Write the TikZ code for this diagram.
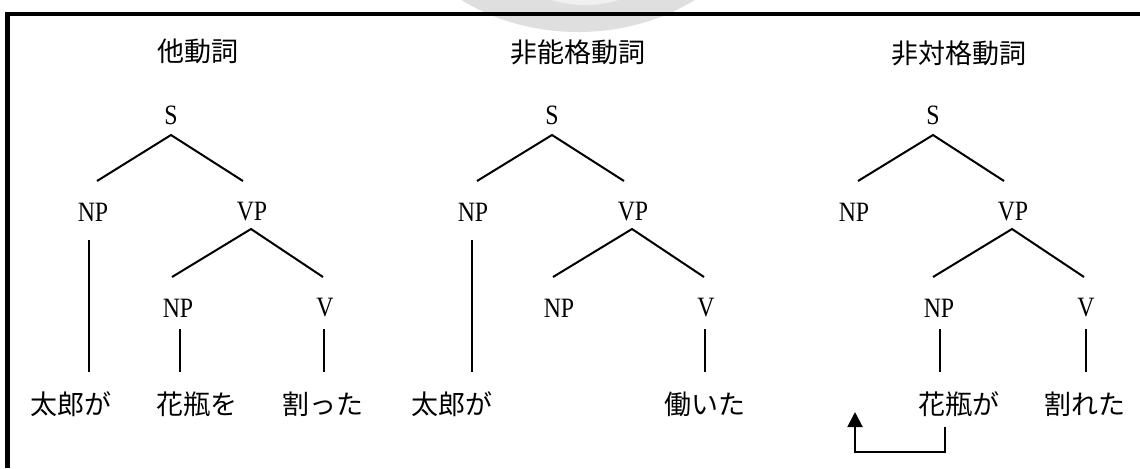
\documentclass[tikz,border=0pt]{standalone}
\usepackage{fontspec}
\setmainfont{Liberation Serif}
\newfontfamily\cjk{Noto Sans CJK JP}
\newfontfamily\latn[FakeStretch=0.85]{Liberation Serif}
\usetikzlibrary{calc,arrows.meta}
\begin{document}
\begin{tikzpicture}[x=0.5pt,y=-0.5pt,
  lab/.style={inner sep=0pt,font=\latn\fontsize{14}{16}\selectfont},
  jp/.style={inner sep=0pt,font=\cjk\fontsize{13.5}{16}\selectfont},
  br/.style={line width=1pt},
  arr/.style={line width=1pt,-{Triangle[width=7.5pt,length=7.5pt]}},
  frame/.style={line width=2.25pt,line join=miter}]
\useasboundingbox (0,0) rectangle (1140,468);
% faint seal at the top
\begin{scope}
\clip (0,0) rectangle (1140,468);
\fill[gray!25] (578,-120) ellipse [x radius=190, y radius=152];
\fill[gray!12] (585,-120) ellipse [x radius=120, y radius=125];
\end{scope}
% frame
\draw[frame] (7.5,468) -- (7.5,14) -- (1145,14);
% titles
\node[jp] (T1) at (198,51) {他動詞};
\node[jp] (T2) at (578,52) {非能格動詞};
\node[jp] (T3) at (959,53) {非対格動詞};
% ---------- tree 1
\node[lab] (S1) at (171,115) {S};
\node[lab] (NPa1) at (93,212) {NP};
\node[lab] (VP1) at (252,212) {VP};
\node[lab] (NPb1) at (178,308) {NP};
\node[lab] (V1) at (325,308) {V};
\node[jp] (Wa1) at (71,404) {太郎が};
\node[jp] (Wb1) at (197,404) {花瓶を};
\node[jp] (Wc1) at (323,404) {割った};
\draw[br] ($(NPa1)+(4,-31)$) -- ($(S1)+(0,20)$) -- ($(VP1)+(-9,-31)$);
\draw[br] ($(NPb1)+(-6,-31)$) -- ($(VP1)+(-1,17)$) -- ($(V1)+(-2,-31)$);
\draw[br] ($(NPa1)+(-4,28)$) -- ($(Wa1)+(18,-32)$);
\draw[br] ($(NPb1)+(2,21)$) -- ($(Wb1)+(-17,-32)$);
\draw[br] ($(V1)+(-1,21)$) -- ($(Wc1)+(1,-32)$);
% ---------- tree 2
\node[lab] (S2) at (552,115) {S};
\node[lab] (NPa2) at (473,212) {NP};
\node[lab] (VP2) at (633,212) {VP};
\node[lab] (NPb2) at (559,308) {NP};
\node[lab] (V2) at (706,308) {V};
\node[jp] (Wa2) at (452,404) {太郎が};
\node[jp] (Wc2) at (705,404) {働いた};
\draw[br] ($(NPa2)+(4,-31)$) -- ($(S2)+(0,20)$) -- ($(VP2)+(-9,-31)$);
\draw[br] ($(NPb2)+(-6,-31)$) -- ($(VP2)+(-1,17)$) -- ($(V2)+(-2,-31)$);
\draw[br] ($(NPa2)+(-1,28)$) -- ($(Wa2)+(20,-32)$);
\draw[br] ($(V2)+(-1,21)$) -- ($(Wc2)+(0,-32)$);
% ---------- tree 3
\node[lab] (S3) at (933,115) {S};
\node[lab] (NPa3) at (854,212) {NP};
\node[lab] (VP3) at (1013,212) {VP};
\node[lab] (NPb3) at (939,308) {NP};
\node[lab] (V3) at (1086,308) {V};
\node[jp] (Wb3) at (959,404) {花瓶が};
\node[jp] (Wc3) at (1085,404) {割れた};
\draw[br] ($(NPa3)+(4,-31)$) -- ($(S3)+(0,20)$) -- ($(VP3)+(-9,-31)$);
\draw[br] ($(NPb3)+(-6,-31)$) -- ($(VP3)+(-1,17)$) -- ($(V3)+(-2,-31)$);
\draw[br] ($(NPb3)+(1,21)$) -- ($(Wb3)+(-19,-32)$);
\draw[br] ($(V3)+(0,21)$) -- ($(Wc3)+(1,-32)$);
% movement arrow
\coordinate (tip) at (855,412);
\draw[arr] ($(Wb3)+(-14,23)$) -- ++(0,25) -| (tip);
\end{tikzpicture}
\end{document}
